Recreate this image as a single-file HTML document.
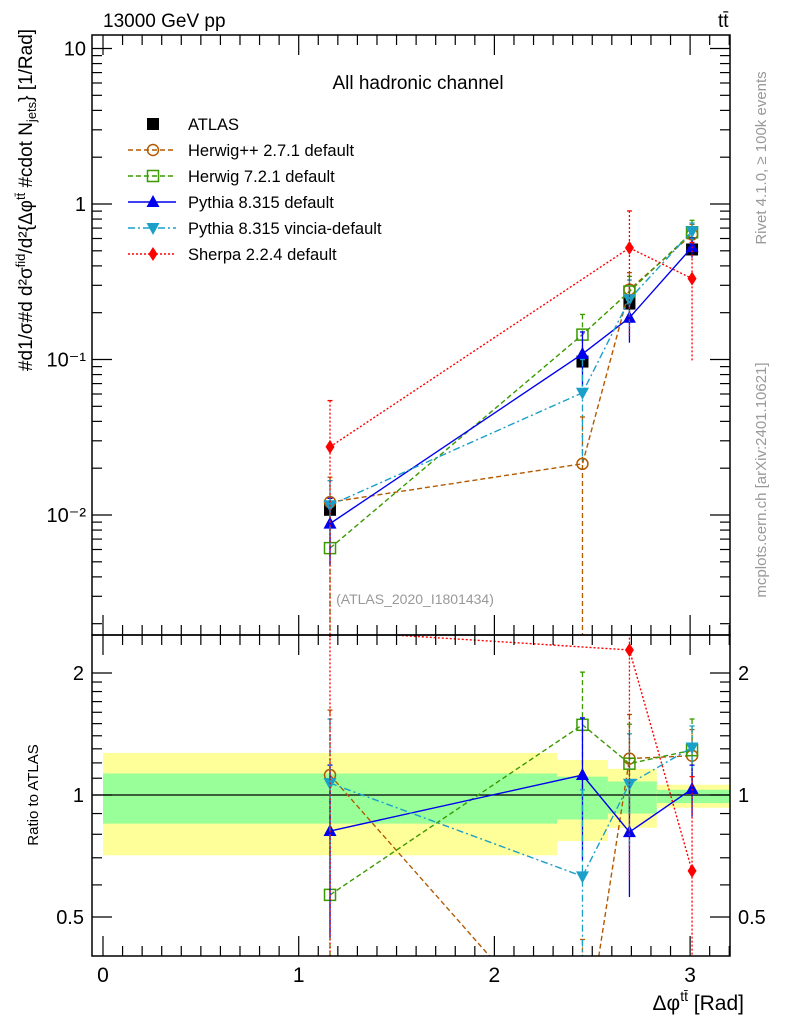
<!DOCTYPE html>
<html><head><meta charset="utf-8"><style>
html,body{margin:0;padding:0;background:#fff;width:786px;height:1024px;overflow:hidden;}
svg{display:block;font-family:"Liberation Sans",sans-serif;}
</style></head><body>
<svg id="c" width="786" height="1024" viewBox="0 0 786 1024" xmlns="http://www.w3.org/2000/svg">
<text x="103" y="27" font-size="19">13000 GeV pp</text>
<text x="718" y="27" font-size="19">tt̄</text>
<text x="418" y="89" font-size="19" text-anchor="middle">All hadronic channel</text>
<text x="415" y="604" font-size="14" fill="#999" text-anchor="middle">(ATLAS_2020_I1801434)</text>
<text transform="translate(766,158) rotate(-90)" font-size="15" fill="#999" text-anchor="middle">Rivet 4.1.0, ≥ 100k events</text>
<text transform="translate(766,480) rotate(-90)" font-size="15" fill="#999" text-anchor="middle">mcplots.cern.ch [arXiv:2401.10621]</text>
<text transform="translate(32,200) rotate(-90)" font-size="19" text-anchor="middle">#d1/σ#d d²σ<tspan font-size="13" dy="-7">fid</tspan><tspan dy="7">/d²{Δφ</tspan><tspan font-size="13" dy="-7">tt̄</tspan><tspan dy="7"> #cdot N</tspan><tspan font-size="13" dy="4">jets</tspan><tspan dy="-4">} [1/Rad]</tspan></text>
<text transform="translate(38,795) rotate(-90)" font-size="15" text-anchor="middle">Ratio to ATLAS</text>
<text x="744" y="1010" font-size="21" text-anchor="end">Δφ<tspan font-size="14" dy="-9">tt̄</tspan><tspan dy="9"> [Rad]</tspan></text>
<g id="g"></g>
</svg>
<script>
const xs=[1.16,2.45,2.69,3.01];
const atlas=[0.0108,0.097,0.229,0.51];
const atlasErr=[0.0012,0.008,0.02,0.04];
const binEdges=[0,2.32,2.58,2.83,3.2];
const bandYellowHi=[1.27,1.22,1.16,1.06];
const bandYellowLo=[0.71,0.77,0.83,0.93];
const bandGreenHi=[1.13,1.11,1.08,1.03];
const bandGreenLo=[0.85,0.87,0.90,0.955];
const hppRatio=[1.12,0.22,1.23,1.25];
const hppErr=[0.5,0.22,0.35,0.2];
const h7Ratio=[0.567,1.49,1.195,1.29];
const h7Err=[0.5,0.52,0.3,0.25];
const pyRatio=[0.815,1.12,0.81,1.035];
const pyErr=[0.37,0.43,0.25,0.15];
const vinRatio=[1.07,0.63,1.066,1.31];
const vinErr=[0.47,0.4,0.35,0.17];
const shRatio=[2.54,null,2.28,0.65];
const shErr=[2.5,null,1.66,0.46];
const mainTickLabels=["10","1","10⁻¹","10⁻²"];
const ratioTickLabels=["2","1","0.5"];
const xTickLabels=["0","1","2","3"];

const L=92,R=730,T=35,MB=635,RB=956;
const X=v=>103+(v)*195.7;
const YM=v=>204-Math.log10(v)*155.5;
const YR=v=>795-Math.log2(v)*122;
const NS="http://www.w3.org/2000/svg";
const g=document.getElementById('g');
function mk(t,a,p){const e=document.createElementNS(NS,t);for(const k in a)e.setAttribute(k,a[k]);(p||g).appendChild(e);return e;}
function grp(name){const e=document.createElementNS(NS,'g');


g.appendChild(e);return e;}

const bands=grp('ratio-uncertainty-bands');
for(let i=0;i<4;i++){
 mk('rect',{x:X(binEdges[i]),y:YR(bandYellowHi[i]),width:X(binEdges[i+1])-X(binEdges[i]),height:YR(bandYellowLo[i])-YR(bandYellowHi[i]),fill:'#ffff99'},bands);
 mk('rect',{x:X(binEdges[i]),y:YR(bandGreenHi[i]),width:X(binEdges[i+1])-X(binEdges[i]),height:YR(bandGreenLo[i])-YR(bandGreenHi[i]),fill:'#99ff99'},bands);
}
mk('line',{x1:L,x2:R,y1:YR(1),y2:YR(1),stroke:'#000','stroke-width':1.2},bands);

const defs=mk('defs',{});
const cm=mk('clipPath',{id:'cm'},defs);mk('rect',{x:L,y:T,width:R-L,height:MB-T},cm);
const cr=mk('clipPath',{id:'cr'},defs);mk('rect',{x:L,y:MB,width:R-L,height:RB-MB},cr);

function marker(p,type,x,y,col){
 const s=6;
 if(type==='sq')mk('rect',{x:x-s,y:y-s,width:2*s,height:2*s,fill:'#000'},p);
 if(type==='osq')mk('rect',{x:x-5.5,y:y-5.5,width:11,height:11,fill:'none',stroke:col,'stroke-width':1.5},p);
 if(type==='oc')mk('circle',{cx:x,cy:y,r:5.5,fill:'none',stroke:col,'stroke-width':1.5},p);
 if(type==='tu')mk('polygon',{points:`${x},${y-7} ${x-6.5},${y+5} ${x+6.5},${y+5}`,fill:col},p);
 if(type==='td')mk('polygon',{points:`${x},${y+7} ${x-6.5},${y-5} ${x+6.5},${y-5}`,fill:col},p);
 if(type==='di')mk('polygon',{points:`${x},${y-7} ${x-4.5},${y} ${x},${y+7} ${x+4.5},${y}`,fill:col},p);
}
const series=[
 {name:'herwigpp',r:hppRatio,e:hppErr,col:'#b35a00',dash:'5,3',m:'oc',lab:'Herwig++ 2.7.1 default'},
 {name:'herwig7',r:h7Ratio,e:h7Err,col:'#3a9a00',dash:'5,3',m:'osq',lab:'Herwig 7.2.1 default'},
 {name:'pythia',r:pyRatio,e:pyErr,col:'#0000ee',dash:'',m:'tu',lab:'Pythia 8.315 default'},
 {name:'vincia',r:vinRatio,e:vinErr,col:'#1aa0c8',dash:'7,3,2,3',m:'td',lab:'Pythia 8.315 vincia-default'},
 {name:'sherpa',r:shRatio,e:shErr,col:'#ff0000',dash:'2,2',m:'di',lab:'Sherpa 2.2.4 default'}
];
function drawSeries(s,main){
 const p=grp(s.name+(main?'-main':'-ratio'));
 p.setAttribute('clip-path',main?'url(#cm)':'url(#cr)');
 const Y=main?YM:YR;
 const pts=[];
 for(let i=0;i<xs.length;i++){
  if(s.r[i]==null)continue;
  const v=main?s.r[i]*atlas[i]:s.r[i];
  const e=main?s.e[i]*atlas[i]:s.e[i];
  const lo=Math.max(v-e,1e-6);
  mk('line',{x1:X(xs[i]),x2:X(xs[i]),y1:Y(v+e),y2:Y(lo),stroke:s.col,'stroke-width':1.3,'stroke-dasharray':s.dash},p);
  mk('line',{x1:X(xs[i])-2.5,x2:X(xs[i])+2.5,y1:Y(v+e),y2:Y(v+e),stroke:s.col,'stroke-width':1.3},p);
  pts.push([X(xs[i]),Y(v)]);
 }
 mk('polyline',{points:pts.map(q=>q.join(',')).join(' '),fill:'none',stroke:s.col,'stroke-width':1.4,'stroke-dasharray':s.dash},p);
 pts.forEach(q=>marker(p,s.m,q[0],q[1],s.col));
}
const ad=grp('atlas-data');
for(let i=0;i<xs.length;i++){
 mk('line',{x1:X(xs[i]),x2:X(xs[i]),y1:YM(atlas[i]+atlasErr[i]),y2:YM(atlas[i]-atlasErr[i]),stroke:'#000','stroke-width':1.3},ad);
 marker(ad,'sq',X(xs[i]),YM(atlas[i]));
}
series.forEach(s=>{drawSeries(s,true);drawSeries(s,false);});

const ax=grp('axes');
mk('rect',{x:L,y:T,width:R-L,height:MB-T,fill:'none',stroke:'#000','stroke-width':1.5},ax);
mk('rect',{x:L,y:MB,width:R-L,height:RB-MB,fill:'none',stroke:'#000','stroke-width':1.5},ax);
function tk(x1,y1,x2,y2){mk('line',{x1,y1,x2,y2,stroke:'#000','stroke-width':1.2},ax);}
for(let d=-3;d<=1;d++)for(let m=1;m<=9;m++){
 const v=m*Math.pow(10,d);const y=YM(v);if(y<T||y>MB)continue;
 const len=m===1?20:10;tk(L,y,L+len,y);tk(R,y,R-len,y);
}
[10,1,0.1,0.01].forEach((v,i)=>{const t=mk('text',{x:L-6,y:YM(v)+7,'font-size':20,'text-anchor':'end'},ax);t.textContent=mainTickLabels[i];});
[0.5,0.6,0.7,0.8,0.9,1,1.1,1.2,1.3,1.4,1.5,1.6,1.7,1.8,1.9,2].forEach(v=>{const y=YR(v);const len=(v===0.5||v===1||v===2)?20:10;tk(L,y,L+len,y);tk(R,y,R-len,y);});
[2,1,0.5].forEach((v,i)=>{
 const t=mk('text',{x:L-8,y:YR(v)+7,'font-size':20,'text-anchor':'end'},ax);t.textContent=ratioTickLabels[i];
 const t2=mk('text',{x:R+8,y:YR(v)+7,'font-size':20},ax);t2.textContent=ratioTickLabels[i];
});
for(let k=0;k<=32;k++){const x=X(k/10);if(x>R)continue;const len=k%10===0?20:10;
 tk(x,T,x,T+len);tk(x,MB,x,MB-len);tk(x,MB,x,MB+len);tk(x,RB,x,RB-len);}
[0,1,2,3].forEach((v,i)=>{const t=mk('text',{x:X(v),y:RB+26,'font-size':21,'text-anchor':'middle'},ax);t.textContent=xTickLabels[i];});

const le0=grp('legend-entry-atlas');
marker(le0,'sq',153,124);
const t0=mk('text',{x:188,y:130,'font-size':16.5},le0);t0.textContent='ATLAS';
series.forEach((s,i)=>{
 const e=grp('legend-entry-'+s.name);
 const y=150+i*26;
 mk('line',{x1:128,x2:176,y1:y,y2:y,stroke:s.col,'stroke-width':1.4,'stroke-dasharray':s.dash},e);
 marker(e,s.m,153,y,s.col);
 const t=mk('text',{x:188,y:y+6,'font-size':16.5},e);t.textContent=s.lab;
});
</script>
</body></html>
